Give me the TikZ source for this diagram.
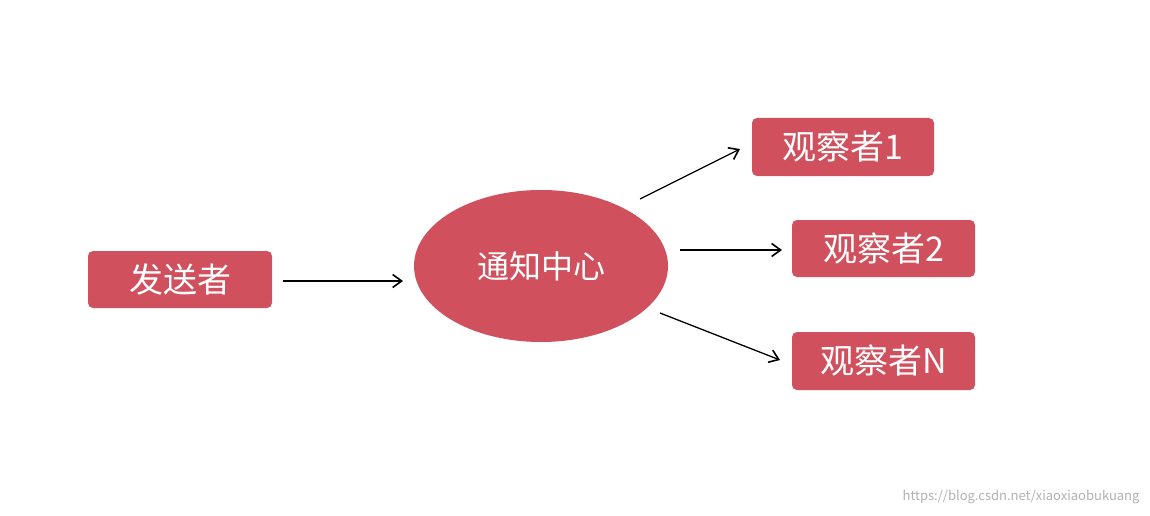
\documentclass[tikz,border=0pt]{standalone}
\usepackage{fontspec}
\usetikzlibrary{shapes.geometric,arrows.meta}
\setmainfont{Noto Sans CJK SC}
\definecolor{boxred}{HTML}{D0505E}
\begin{document}
\begin{tikzpicture}[x=1pt,y=-1pt,
  box/.style={fill=boxred,rounded corners=5pt,text=white,font=\fontsize{34}{38}\selectfont,inner sep=0pt},
  arr/.style={-{Straight Barb[length=9pt,width=13pt,line width=1.6pt]},line width=1.3pt}]
\useasboundingbox[fill=white] (0,0) rectangle (1150,516);
\node[box,minimum width=184pt,minimum height=57pt] (s) at (180,279.5) {发送者};
\node[fill=boxred,ellipse,minimum width=254pt,minimum height=152pt,inner sep=0pt,text=white,font=\fontsize{32}{36}\selectfont] (c) at (541,266) {通知中心};
\node[box,minimum width=182pt,minimum height=58pt] (o1) at (843,147) {观察者1};
\node[box,minimum width=183pt,minimum height=57pt] (o2) at (883.5,248.5) {观察者2};
\node[box,minimum width=183pt,minimum height=58pt] (on) at (883.5,361) {观察者N};
\coordinate (a1) at (283,281); \coordinate (a2) at (403,281);
\coordinate (b1) at (640,199); \coordinate (b2) at (740,149);
\coordinate (c1) at (680,250); \coordinate (c2) at (782,250);
\coordinate (d1) at (660,313); \coordinate (d2) at (780,360);
\draw[arr] (a1) -- (a2);
\draw[arr] (b1) -- (b2);
\draw[arr] (c1) -- (c2);
\draw[arr] (d1) -- (d2);
\node[text=gray!60,font=\fontsize{13}{15}\selectfont,anchor=east] (w) at (1143,497) {https://blog.csdn.net/xiaoxiaobukuang};
\end{tikzpicture}
\end{document}
